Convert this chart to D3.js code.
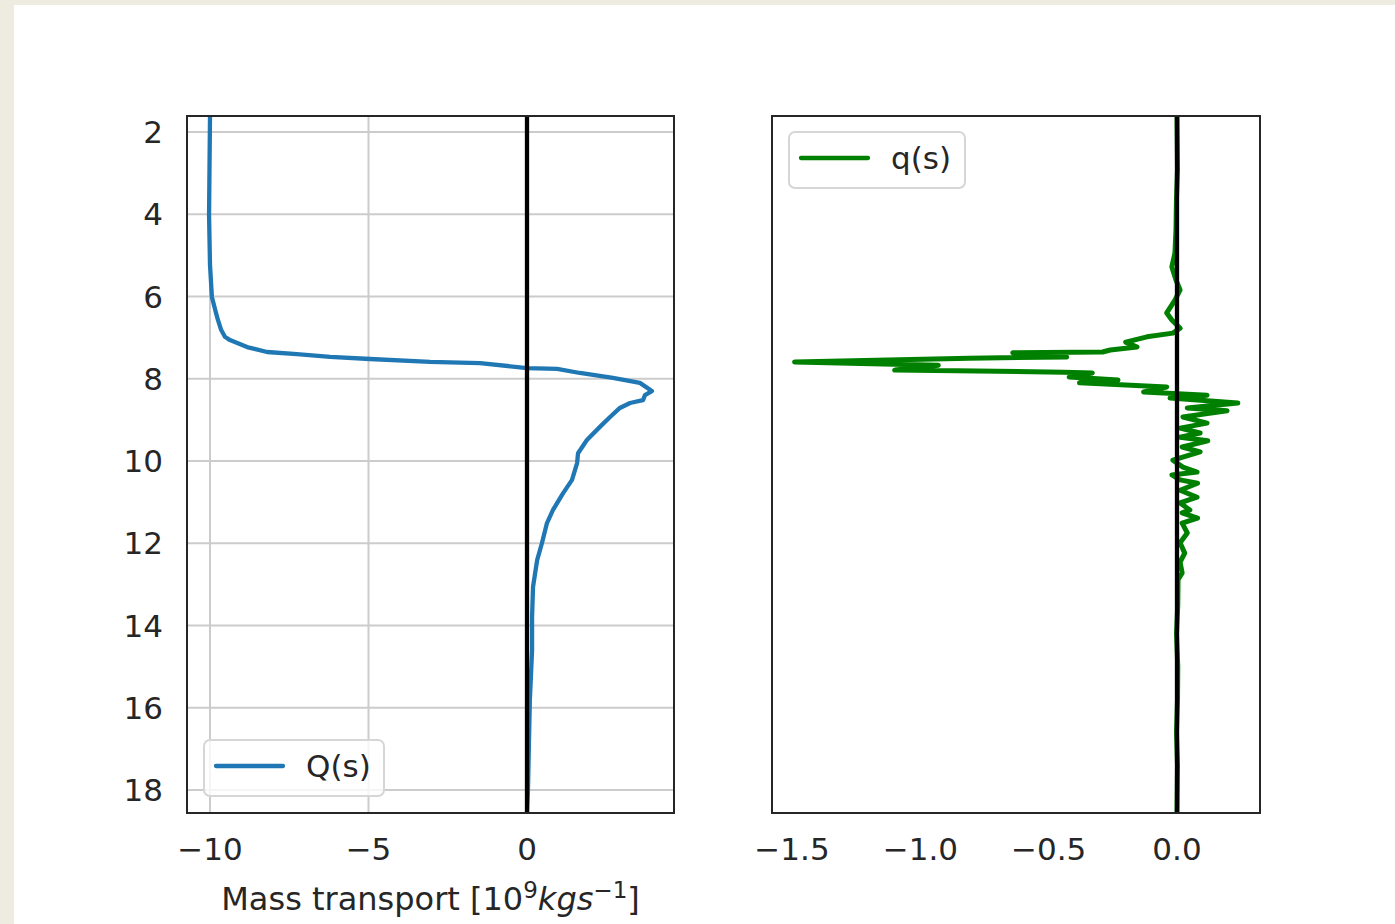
<!DOCTYPE html>
<html>
<head>
<meta charset="utf-8">
<script src="https://cdn.jsdelivr.net/npm/d3@7"></script>
<style>
  html, body { margin: 0; padding: 0; background: #eeebe1; }
  svg { position: absolute; left: 14px; top: 5px; background: #ffffff; }
  text { font-family: "DejaVu Sans", sans-serif; fill: #262626; }
</style>
</head>
<body>
<svg id="chart" width="1381" height="919"></svg>
<script>
// ---- Data ----
const sQ = [1.61, 4.02, 5.23, 6.01, 6.40, 6.57, 6.81, 6.98, 7.06, 7.23, 7.35, 7.40, 7.47, 7.52, 7.59, 7.62, 7.74, 7.76, 7.86, 7.98, 8.10, 8.30, 8.40, 8.52, 8.59, 8.71, 8.93, 9.17, 9.49, 9.81, 10.05, 10.46, 10.78, 11.19, 11.51, 12.0, 12.41, 13.06, 13.79, 14.6, 15.81, 18.0, 18.56];
const Qvals = [-10.0, -10.03, -10.0, -9.94, -9.81, -9.75, -9.65, -9.53, -9.37, -8.83, -8.20, -7.26, -6.21, -4.95, -3.06, -1.48, 0.0, 0.95, 1.67, 2.71, 3.56, 3.94, 3.72, 3.66, 3.25, 2.93, 2.62, 2.30, 1.89, 1.61, 1.58, 1.42, 1.14, 0.82, 0.63, 0.47, 0.32, 0.19, 0.16, 0.16, 0.09, 0.03, 0.0];

const sq = [1.61, 2.92, 3.60, 4.38, 4.94, 5.28, 5.60, 5.84, 6.09, 6.40, 6.57, 6.77, 6.89, 6.98, 7.11, 7.23, 7.30, 7.35, 7.37, 7.47, 7.50, 7.59, 7.67, 7.79, 7.84, 7.86, 7.96, 8.03, 8.10, 8.20, 8.32, 8.40, 8.47, 8.59, 8.71, 8.78, 8.93, 9.08, 9.20, 9.32, 9.42, 9.51, 9.66, 9.78, 9.98, 10.15, 10.27, 10.34, 10.46, 10.54, 10.71, 10.88, 11.02, 11.19, 11.26, 11.39, 11.51, 11.75, 11.99, 12.24, 12.46, 12.72, 12.89, 13.5, 14.2, 15.0, 15.8, 16.6, 17.4, 18.56];
const qvals = [0.0, 0.002, -0.002, -0.004, -0.008, -0.02, -0.004, 0.012, -0.008, -0.04, -0.02, 0.012, -0.016, -0.117, -0.20, -0.156, -0.26, -0.29, -0.64, -0.43, -0.81, -1.49, -0.93, -1.10, -0.44, -0.33, -0.42, -0.23, -0.38, -0.04, -0.13, 0.117, -0.027, 0.237, 0.04, 0.195, 0.023, 0.117, 0.012, 0.09, 0.012, 0.12, 0.02, 0.09, -0.016, 0.023, 0.078, -0.02, 0.012, 0.08, 0.012, 0.078, 0.012, 0.05, 0.02, 0.08, 0.02, 0.04, 0.012, 0.03, 0.012, 0.02, 0.004, 0.003, -0.002, 0.003, 0.002, -0.002, 0.002, 0.0];

const yTicks = [2, 4, 6, 8, 10, 12, 14, 16, 18];
const xTicksLeft = [-10, -5, 0];
const xTicksRight = [-1.5, -1.0, -0.5, 0.0];

// ---- Layout ----
const svg = d3.select("#chart");
const OX = 14, OY = 5; // svg offset in page
const yTop = 116 - OY, yBot = 813 - OY;
const L = { x0: 187 - OX, x1: 674 - OX };
const R = { x0: 772 - OX, x1: 1260 - OX };
const FS = 31;

const y = d3.scaleLinear().domain([2, 18]).range([132 - OY, 790 - OY]);
const xL = d3.scaleLinear().domain([-10, 0]).range([210 - OX, 527 - OX]);
const xR = d3.scaleLinear().domain([-1.5, 0]).range([792 - OX, 1177 - OX]);

const fmt = v => (v < 0 ? "\u2212" : "") + Math.abs(v);
const fmt1 = v => (v < 0 ? "\u2212" : "") + Math.abs(v).toFixed(1);

function panel(P, x, ticks, tf, grid) {
  const g = svg.append("g");
  const id = "clip" + P.x0;
  svg.append("clipPath").attr("id", id).append("rect")
    .attr("x", P.x0).attr("y", yTop).attr("width", P.x1 - P.x0).attr("height", yBot - yTop);
  if (grid) {
    g.selectAll(".gx").data(ticks).join("line")
      .attr("x1", d => x(d)).attr("x2", d => x(d)).attr("y1", yTop).attr("y2", yBot)
      .attr("stroke", "#cccccc").attr("stroke-width", 2);
    g.selectAll(".gy").data(yTicks).join("line")
      .attr("x1", P.x0).attr("x2", P.x1).attr("y1", d => y(d)).attr("y2", d => y(d))
      .attr("stroke", "#cccccc").attr("stroke-width", 2);
  }
  g.selectAll(".xt").data(ticks).join("text")
    .attr("x", d => x(d)).attr("y", 860 - OY)
    .attr("text-anchor", "middle").attr("font-size", FS)
    .text(tf);
  return { g, id };
}

const pl = panel(L, xL, xTicksLeft, fmt, true);
const pr = panel(R, xR, xTicksRight, fmt1, false);

svg.selectAll(".yt").data(yTicks).join("text")
  .attr("x", 163 - OX).attr("y", d => y(d)).attr("dy", "0.36em")
  .attr("text-anchor", "end").attr("font-size", FS)
  .text(d => d);

const lineL = d3.line().x(d => xL(d[1])).y(d => y(d[0]));
svg.append("path").datum(sQ.map((s, i) => [s, Qvals[i]]))
  .attr("clip-path", `url(#${pl.id})`)
  .attr("d", lineL).attr("fill", "none").attr("stroke", "#1f77b4")
  .attr("stroke-width", 4.3).attr("stroke-linejoin", "round").attr("stroke-linecap", "round");

const lineR = d3.line().x(d => xR(d[1])).y(d => y(d[0]));
svg.append("path").datum(sq.map((s, i) => [s, qvals[i]]))
  .attr("clip-path", `url(#${pr.id})`)
  .attr("d", lineR).attr("fill", "none").attr("stroke", "#008000")
  .attr("stroke-width", 5).attr("stroke-linejoin", "round").attr("stroke-linecap", "round");

svg.append("line").attr("x1", xL(0)).attr("x2", xL(0)).attr("y1", yTop).attr("y2", yBot)
  .attr("stroke", "#000").attr("stroke-width", 4.3);
svg.append("line").attr("x1", xR(0)).attr("x2", xR(0)).attr("y1", yTop).attr("y2", yBot)
  .attr("stroke", "#000").attr("stroke-width", 4.3);

[L, R].forEach(P => {
  svg.append("rect").attr("x", P.x0).attr("y", yTop).attr("width", P.x1 - P.x0).attr("height", yBot - yTop)
    .attr("fill", "none").attr("stroke", "#262626").attr("stroke-width", 2);
});

function legend(bx, by, bw, bh, color, label) {
  const g = svg.append("g");
  g.append("rect").attr("x", bx - OX).attr("y", by - OY).attr("width", bw).attr("height", bh)
    .attr("rx", 6).attr("fill", "rgba(255,255,255,0.8)").attr("stroke", "#d6d6d6").attr("stroke-width", 2);
  g.append("line").attr("x1", bx + 12 - OX).attr("x2", bx + 79 - OX)
    .attr("y1", by + bh / 2 - 2 - OY).attr("y2", by + bh / 2 - 2 - OY)
    .attr("stroke", color).attr("stroke-width", 4.3).attr("stroke-linecap", "round");
  g.append("text").attr("x", bx + 102 - OX).attr("y", by + bh / 2 - 2 - OY).attr("dy", "0.36em")
    .attr("font-size", FS).text(label);
}
legend(204, 740, 180, 56, "#1f77b4", "Q(s)");
legend(789, 132, 176, 56, "#008000", "q(s)");

const xl = svg.append("text").attr("x", (L.x0 + L.x1) / 2).attr("y", 910 - OY)
  .attr("text-anchor", "middle").attr("font-size", 32);
xl.append("tspan").text("Mass transport [10");
xl.append("tspan").attr("dy", -12).attr("font-size", 23).text("9");
xl.append("tspan").attr("dy", 12).attr("font-style", "italic").text("kgs");
xl.append("tspan").attr("dy", -12).attr("font-size", 23).text("\u22121");
xl.append("tspan").attr("dy", 12).text("]");
</script>
</body>
</html>
